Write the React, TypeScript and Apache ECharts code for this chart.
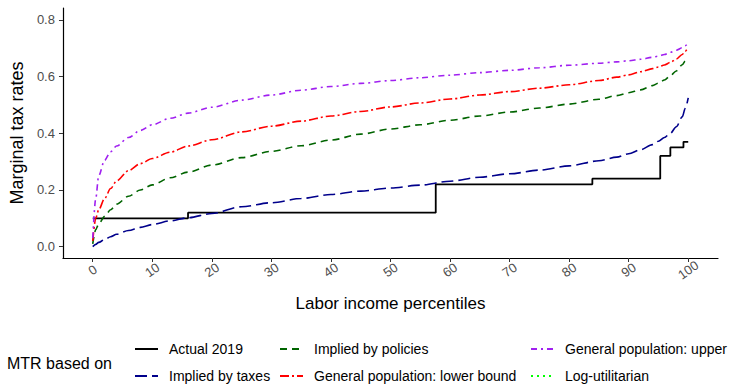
import React, { useEffect, useRef } from "react";
import * as echarts from "echarts";

// Percentiles of the labor income distribution at which the MTR curves are sampled
const percentiles = [0, 0.5, 1, 2, 3, 4, 6, 8, 10, 13, 16, 20, 25, 30, 35, 40, 45, 50, 55, 60, 65, 70, 75, 80, 85, 88, 90, 92, 94, 95, 96, 97, 98, 99, 99.5, 100];

const impliedByTaxes = [0, 0.008, 0.015, 0.025, 0.035, 0.044, 0.057, 0.068, 0.078, 0.091, 0.102, 0.117, 0.141, 0.155, 0.17, 0.184, 0.196, 0.207, 0.217, 0.231, 0.245, 0.257, 0.27, 0.285, 0.303, 0.316, 0.328, 0.342, 0.36, 0.372, 0.385, 0.4, 0.423, 0.458, 0.488, 0.525];

const impliedByPolicies = [0.01, 0.06, 0.08, 0.107, 0.13, 0.15, 0.178, 0.2, 0.218, 0.243, 0.263, 0.288, 0.314, 0.336, 0.356, 0.376, 0.397, 0.415, 0.43, 0.446, 0.461, 0.475, 0.489, 0.503, 0.52, 0.533, 0.543, 0.553, 0.568, 0.577, 0.588, 0.603, 0.62, 0.642, 0.655, 0.665];

const generalLower = [0.02, 0.1, 0.13, 0.17, 0.205, 0.232, 0.268, 0.293, 0.311, 0.333, 0.355, 0.377, 0.405, 0.425, 0.443, 0.461, 0.477, 0.493, 0.507, 0.521, 0.535, 0.547, 0.559, 0.571, 0.586, 0.598, 0.606, 0.617, 0.628, 0.634, 0.641, 0.65, 0.662, 0.678, 0.69, 0.703];

const generalUpper = [0.03, 0.17, 0.25, 0.305, 0.335, 0.355, 0.385, 0.41, 0.43, 0.453, 0.471, 0.492, 0.517, 0.535, 0.552, 0.565, 0.576, 0.586, 0.596, 0.605, 0.614, 0.622, 0.631, 0.64, 0.647, 0.652, 0.656, 0.661, 0.668, 0.672, 0.678, 0.686, 0.693, 0.702, 0.709, 0.718];

const logUtilitarian: number[] = [];

// 2019 statutory brackets: percentile where each bracket begins and its rate
const bracketStarts = [0, 16, 57.6, 83.9, 95.3, 97, 99.2];
const bracketRates = [0.1, 0.12, 0.22, 0.24, 0.32, 0.35, 0.37];
const lastPercentile = 100;

const xTicks = [0, 10, 20, 30, 40, 50, 60, 70, 80, 90, 100];
const yTicks = [0, 0.2, 0.4, 0.6, 0.8];

const FONT = "'Liberation Sans', Arial, sans-serif";

const pair = (vals: number[]) => percentiles.map((p, i) => [p, vals[i]]);

export default function App() {
  const ref = useRef<HTMLDivElement>(null);

  useEffect(() => {
    if (!ref.current) return;
    const chart = echarts.init(ref.current, undefined, { renderer: "svg" });

    const actual = bracketStarts.map((s, i) => [s, bracketRates[i]]);
    actual.push([lastPercentile, bracketRates[bracketRates.length - 1]]);

    const legendBase = {
      orient: "vertical",
      top: 342,
      itemWidth: 23,
      itemHeight: 14,
      itemGap: 13,
      padding: 0,
      selectedMode: false,
      itemStyle: { opacity: 0 },
      textStyle: {
        fontSize: 14,
        lineHeight: 14,
        color: "#000",
        fontFamily: FONT,
        padding: [0, 0, 0, 6],
      },
    };

    const curve = (name: string, vals: number[], color: string, dash: number[], width = 1.6) => ({
      name,
      type: "line",
      data: vals.length ? pair(vals) : [],
      symbol: "none",
      smooth: 0.3,
      smoothMonotone: "x",
      lineStyle: { color, width, type: dash },
      itemStyle: { color },
    });

    chart.setOption({
      animation: false,
      grid: { left: 58, right: 12, top: 8, bottom: 127 },
      xAxis: {
        type: "value",
        min: -5,
        max: 105,
        name: "Labor income percentiles",
        nameLocation: "middle",
        nameGap: 37,
        nameTextStyle: { fontSize: 17, color: "#000", fontFamily: FONT },
        axisLine: { onZero: false, lineStyle: { color: "#000", width: 1.2 } },
        axisTick: { customValues: xTicks, length: 4, lineStyle: { color: "#333" } },
        axisLabel: {
          customValues: xTicks,
          rotate: 35,
          fontSize: 13,
          color: "#4d4d4d",
          fontFamily: FONT,
          margin: 12,
          align: "center",
          verticalAlign: "middle",
        },
        splitLine: { show: false },
      },
      yAxis: {
        type: "value",
        min: -0.04,
        max: 0.842,
        name: "Marginal tax rates",
        nameLocation: "middle",
        nameGap: 36,
        nameRotate: 90,
        nameTextStyle: { fontSize: 18, color: "#000", fontFamily: FONT },
        axisLine: { show: true, onZero: false, lineStyle: { color: "#000", width: 1.2 } },
        axisTick: { show: true, customValues: yTicks, length: 4, lineStyle: { color: "#333" } },
        axisLabel: {
          customValues: yTicks,
          fontSize: 13,
          color: "#4d4d4d",
          fontFamily: FONT,
          margin: 8,
          formatter: (v: number) => v.toFixed(1),
        },
        splitLine: { show: false },
      },
      legend: [
        { ...legendBase, left: 134, data: ["Actual 2019", "Implied by taxes"] },
        { ...legendBase, left: 279, data: ["Implied by policies", "General population: lower bound"] },
        { ...legendBase, left: 530, data: ["General population: upper", "Log-utilitarian"] },
      ],
      graphic: [
        {
          type: "text",
          left: 7,
          top: 355,
          style: { text: "MTR based on", fontSize: 16, fill: "#000", fontFamily: FONT },
        },
      ],
      series: [
        {
          name: "Actual 2019",
          type: "line",
          step: "end",
          data: actual,
          symbol: "none",
          lineStyle: { color: "#000", width: 1.8, type: "solid" },
          itemStyle: { color: "#000" },
        },
        curve("Implied by taxes", impliedByTaxes, "#00008B", [12, 5]),
        curve("Implied by policies", impliedByPolicies, "#006400", [7, 5]),
        curve("General population: lower bound", generalLower, "#FF0000", [9, 3, 2, 3]),
        curve("General population: upper", generalUpper, "#A020F0", [6, 4, 2, 4]),
        curve("Log-utilitarian", logUtilitarian, "#00FF00", [2, 4]),
      ],
    });

    return () => chart.dispose();
  }, []);

  return (
    <div
      ref={ref}
      style={{ position: "absolute", left: 0, top: 0, width: 730, height: 385 }}
    />
  );
}
